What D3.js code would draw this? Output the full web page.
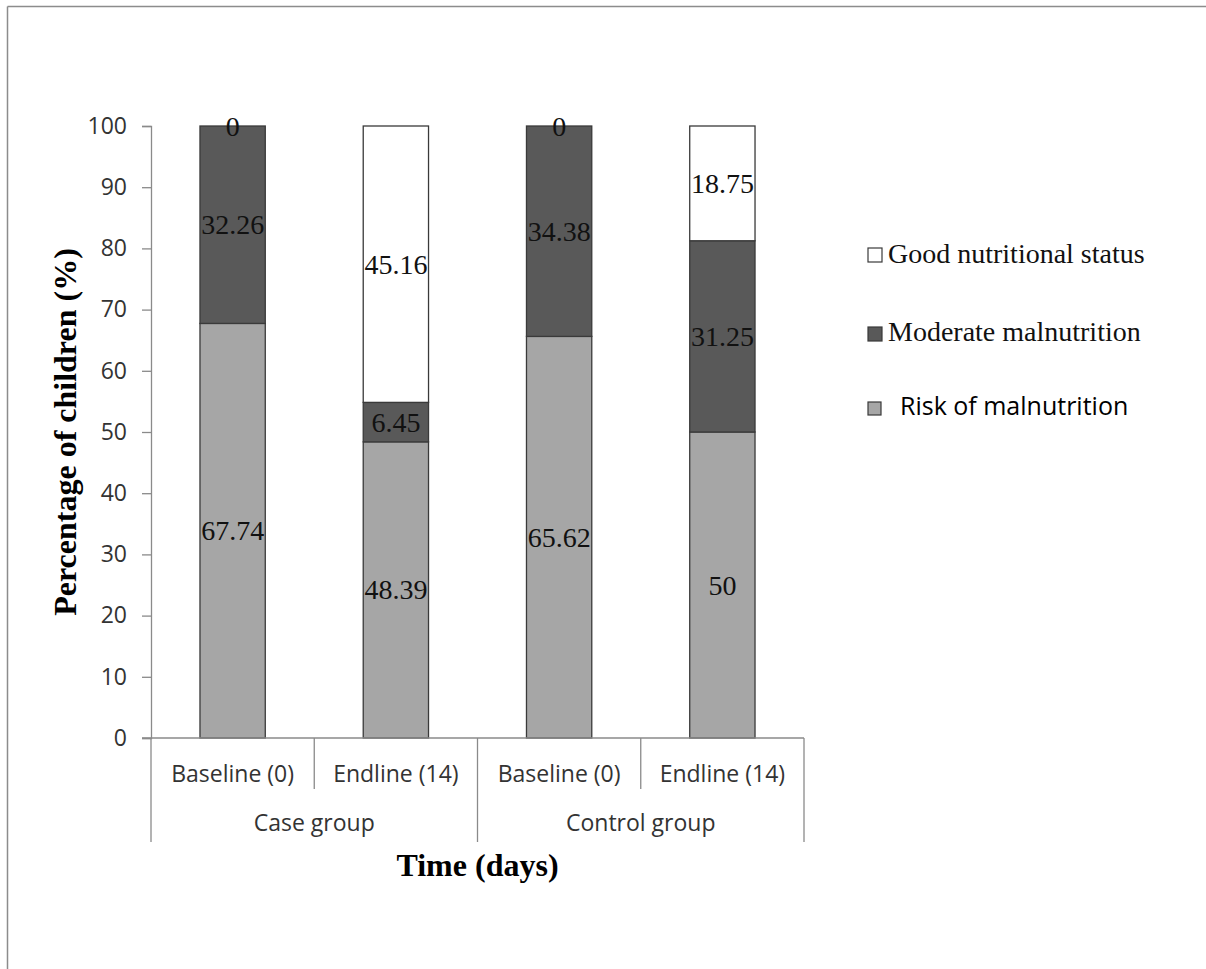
<!DOCTYPE html>
<html>
<head>
<meta charset="utf-8">
<script src="https://cdn.jsdelivr.net/npm/d3@7"></script>
<style>
  html, body { margin: 0; padding: 0; background: #ffffff; }
  svg { display: block; }
</style>
</head>
<body>
<div id="chart"></div>
<script>
// Nutritional status of children by group and time point (stacked 100%)
const categories = ["Baseline (0)", "Endline (14)", "Baseline (0)", "Endline (14)"];
const groups = ["Case group", "Control group"];
const riskValues = [67.74, 48.39, 65.62, 50];
const moderateValues = [32.26, 6.45, 34.38, 31.25];
const goodValues = [0, 45.16, 0, 18.75];
const seriesNames = ["Risk of malnutrition", "Moderate malnutrition", "Good nutritional status"];
const yTickValues = [0, 10, 20, 30, 40, 50, 60, 70, 80, 90, 100];

const width = 1206, height = 969;
const margin = { left: 151, right: 402, top: 126, bottom: 231 };

const rows = categories.map((c, i) => ({
  key: i,
  category: c,
  group: groups[Math.floor(i / 2)],
  "Risk of malnutrition": riskValues[i],
  "Moderate malnutrition": moderateValues[i],
  "Good nutritional status": goodValues[i]
}));

const colors = {
  "Risk of malnutrition": "#a6a6a6",
  "Moderate malnutrition": "#595959",
  "Good nutritional status": "#ffffff"
};

const svg = d3.select("#chart").append("svg")
  .attr("width", width).attr("height", height);

// outer frame (top and left edges visible)
svg.append("line").attr("x1", 7.5).attr("x2", width).attr("y1", 6.5).attr("y2", 6.5)
  .attr("stroke", "#8c8c8c").attr("stroke-width", 1.5);
svg.append("line").attr("x1", 7.5).attr("x2", 7.5).attr("y1", 6.5).attr("y2", height)
  .attr("stroke", "#8c8c8c").attr("stroke-width", 1.5);

const x = d3.scaleBand()
  .domain(rows.map(d => d.key))
  .range([margin.left, width - margin.right])
  .paddingInner(0.6)
  .paddingOuter(0.3);

const y = d3.scaleLinear()
  .domain([0, 100])
  .range([height - margin.bottom, margin.top]);

const stacked = d3.stack().keys(seriesNames)(rows);

const axisColor = "#8a8a8a";
const tickFont = "'Open Sans', 'Noto Sans', sans-serif";
const serif = "'Liberation Serif', 'DejaVu Serif', serif";

// y axis
const yAxis = svg.append("g")
  .attr("transform", `translate(${margin.left},0)`)
  .call(d3.axisLeft(y).tickValues(yTickValues).tickSize(9).tickPadding(15));
yAxis.select(".domain").attr("stroke", axisColor).attr("stroke-width", 1.3);
yAxis.selectAll(".tick line").attr("stroke", axisColor).attr("stroke-width", 1.3);
yAxis.selectAll(".tick text")
  .attr("font-family", tickFont).attr("font-size", 23).attr("fill", "#333333");

// bars
const layers = svg.append("g").selectAll("g")
  .data(stacked).join("g")
  .attr("fill", d => colors[d.key]);

layers.selectAll("rect")
  .data(d => d)
  .join("rect")
  .attr("x", d => x(d.data.key))
  .attr("width", x.bandwidth())
  .attr("y", d => y(d[1]))
  .attr("height", d => y(d[0]) - y(d[1]))
  .attr("stroke", "#3a3a3a")
  .attr("stroke-width", 1.3);

// value labels centred in each segment
const fmt = v => d3.format("~")(v);
svg.append("g").selectAll("g")
  .data(stacked).join("g")
  .selectAll("text")
  .data(d => d.map(s => ({ s, key: d.key })))
  .join("text")
  .attr("x", d => x(d.s.data.key) + x.bandwidth() / 2)
  .attr("y", d => (y(d.s[0]) + y(d.s[1])) / 2)
  .attr("dy", "0.34em")
  .attr("text-anchor", "middle")
  .attr("font-family", serif)
  .attr("font-size", 28)
  .attr("fill", "#111111")
  .text(d => fmt(d.s.data[d.key]));

// category axis with two-level labels
const baseY = y(0);
const xAxisG = svg.append("g");
xAxisG.append("line")
  .attr("x1", margin.left - 9).attr("x2", width - margin.right)
  .attr("y1", baseY).attr("y2", baseY)
  .attr("stroke", axisColor).attr("stroke-width", 1.3);

const step = x.step();
const catEdges = rows.map(d => x(d.key) - (step - x.bandwidth()) / 2);
catEdges.push(width - margin.right);

catEdges.forEach((ex, i) => {
  const long = i % 2 === 0;
  xAxisG.append("line")
    .attr("x1", ex).attr("x2", ex)
    .attr("y1", baseY).attr("y2", long ? baseY + 104 : baseY + 51)
    .attr("stroke", axisColor).attr("stroke-width", 1.3);
});

xAxisG.selectAll("text.cat")
  .data(rows).join("text")
  .attr("class", "cat")
  .attr("x", d => x(d.key) + x.bandwidth() / 2)
  .attr("y", baseY + 44)
  .attr("text-anchor", "middle")
  .attr("font-family", tickFont).attr("font-size", 23).attr("fill", "#333333")
  .text(d => d.category);

xAxisG.selectAll("text.grp")
  .data(groups).join("text")
  .attr("class", "grp")
  .attr("x", (g, i) => (catEdges[i * 2] + catEdges[i * 2 + 2]) / 2)
  .attr("y", baseY + 93)
  .attr("text-anchor", "middle")
  .attr("font-family", tickFont).attr("font-size", 23).attr("fill", "#333333")
  .text(g => g);

// axis titles
svg.append("text")
  .attr("x", (margin.left + width - margin.right) / 2)
  .attr("y", 876)
  .attr("text-anchor", "middle")
  .attr("font-family", serif).attr("font-weight", "bold").attr("font-size", 32)
  .attr("fill", "#000000")
  .text("Time (days)");

svg.append("text")
  .attr("transform", `translate(76,${(y(0) + y(100)) / 2}) rotate(-90)`)
  .attr("text-anchor", "middle")
  .attr("font-family", serif).attr("font-weight", "bold").attr("font-size", 32)
  .attr("fill", "#000000")
  .text("Percentage of children (%)");

// legend
const legendItems = [
  { name: "Good nutritional status", boxX: 868, boxY: 248, size: 14, textX: 888, baseline: 263, font: serif, fs: 28 },
  { name: "Moderate malnutrition", boxX: 868, boxY: 327, size: 14, textX: 888, baseline: 341, font: serif, fs: 28 },
  { name: "Risk of malnutrition", boxX: 868, boxY: 402, size: 13, textX: 900, baseline: 415, font: tickFont, fs: 25 }
];
const legend = svg.append("g");
legend.selectAll("rect")
  .data(legendItems).join("rect")
  .attr("x", d => d.boxX).attr("y", d => d.boxY)
  .attr("width", d => d.size).attr("height", d => d.size)
  .attr("fill", d => colors[d.name])
  .attr("stroke", "#3a3a3a").attr("stroke-width", 1.2);
legend.selectAll("text")
  .data(legendItems).join("text")
  .attr("x", d => d.textX).attr("y", d => d.baseline)
  .attr("font-family", d => d.font).attr("font-size", d => d.fs)
  .attr("fill", d => d.font === serif ? "#111111" : "#000000")
  .text(d => d.name);
</script>
</body>
</html>
